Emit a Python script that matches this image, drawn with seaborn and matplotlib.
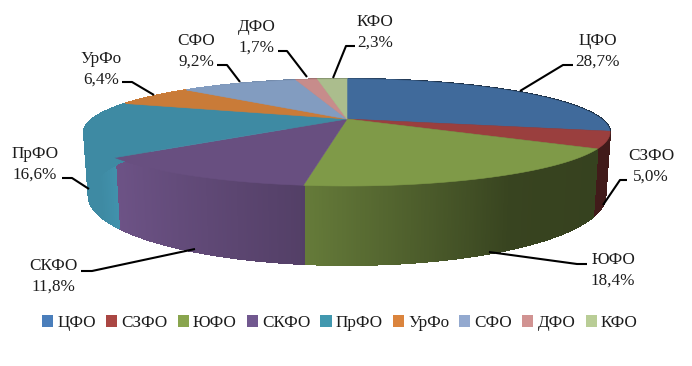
import numpy as np
import seaborn as sns
import matplotlib
matplotlib.use("Agg")
import matplotlib.pyplot as plt
from matplotlib.patches import Patch

regions = ["ЦФО", "СЗФО", "ЮФО", "СКФО", "ПрФО", "УрФо", "СФО", "ДФО", "КФО"]
shares = [28.7, 5.0, 18.4, 11.8, 16.6, 6.4, 9.2, 1.7, 2.3]

legend_colors = ["#4a7ebb", "#aa4643", "#89a54e", "#71588f", "#4198af",
                 "#db843d", "#93a9cf", "#d19392", "#b9cd96"]
top_colors = ["#406a9b", "#9a3f3e", "#7f9a48", "#684f80", "#3e8aa3",
              "#c97b38", "#829cc0", "#c78c8b", "#abbd8d"]

# label centre (x, y), then leader line points, all in pixels
label_pos = [(598, 51), (651, 166), (613, 270), (53, 276), (35, 164),
             (101, 69), (196, 51), (257, 37), (375, 32)]
leaders = [
    [(520, 91), (563, 65), (573, 65)],
    [(603, 205), (620, 180), (627, 180)],
    [(489, 252), (577, 264), (587, 264)],
    [(195, 249), (92, 271), (81, 271)],
    [(89, 189), (72, 178), (62, 178)],
    [(154, 95), (132, 82), (122, 82)],
    [(240, 82), (227, 65), (217, 65)],
    [(307, 77), (287, 51), (278, 51)],
    [(333, 78), (346, 46), (355, 46)],
]

# wall shading, from the cos of the angle
shade_x = [-1.0, -0.85, -0.77, -0.13, 0.5, 1.0]
shade_y = [1.0, 1.0, 1.05, 0.80, 0.44, 0.42]

sns.set_theme(style="white")
plt.rcParams["font.family"] = ["Liberation Serif", "DejaVu Serif"]
text_color = "#1c1c1c"


# tilted disc seen in perspective
def project(t, cx, cy, a, b, k=0.2523):
    x, y = np.cos(t), np.sin(t)
    return cx + a * x / (1 + k * y), cy - b * y / (1 + k * y)


def top_face(t):
    return project(t, 347, 119, 254.5, 50.1)


def bottom_face(t):
    return project(t, 347, 178, 250, 65)


fig = plt.figure(figsize=(6.92, 3.66), dpi=100)
ax = fig.add_axes([0, 0, 1, 1])
ax.set_xlim(0, 692)
ax.set_ylim(366, 0)
ax.axis("off")

fractions = np.array(shares) / sum(shares)
edges = np.pi / 2 - 2 * np.pi * np.concatenate([[0], np.cumsum(fractions)])
palette = sns.color_palette(top_colors)

# side wall first, in thin strips so that it can be shaded
for i, color in enumerate(palette):
    steps = np.linspace(edges[i], edges[i + 1], max(int(fractions[i] * 1200), 4))
    for t0, t1 in zip(steps[:-1], steps[1:]):
        ts = np.array([t0, t1])
        xt, yt = top_face(ts)
        xb, yb = bottom_face(ts[::-1])
        f = np.interp(np.cos((t0 + t1) / 2), shade_x, shade_y)
        c = tuple(min(v * f, 1) for v in color)
        ax.fill(np.r_[xt, xb], np.r_[yt, yb], color=c, lw=0.8, antialiased=False)

for i, color in enumerate(palette):
    ts = np.linspace(edges[i], edges[i + 1], 120)
    xt, yt = top_face(ts)
    ax.fill(np.r_[347, xt], np.r_[119, yt], color=color, lw=0.4)

for i, name in enumerate(regions):
    pts = np.array(leaders[i])
    ax.plot(pts[:, 0], pts[:, 1], color="black", lw=1.5, solid_capstyle="butt")
    txt = f"{name}\n{shares[i]:.1f}%".replace(".", ",")
    ax.text(label_pos[i][0], label_pos[i][1], txt, ha="center", va="center",
            fontsize=12.3, linespacing=1.38, color=text_color)

handles = [Patch(facecolor=c, edgecolor="none", label=n)
           for n, c in zip(regions, legend_colors)]
ax.legend(handles=handles, ncol=9, loc="center", bbox_to_anchor=(340 / 692, 1 - 323 / 366),
          frameon=False, fontsize=12.3, handlelength=0.65, handleheight=0.65,
          handletextpad=0.25, columnspacing=0.58, labelcolor=text_color)

fig.savefig("out.png", dpi=100)
